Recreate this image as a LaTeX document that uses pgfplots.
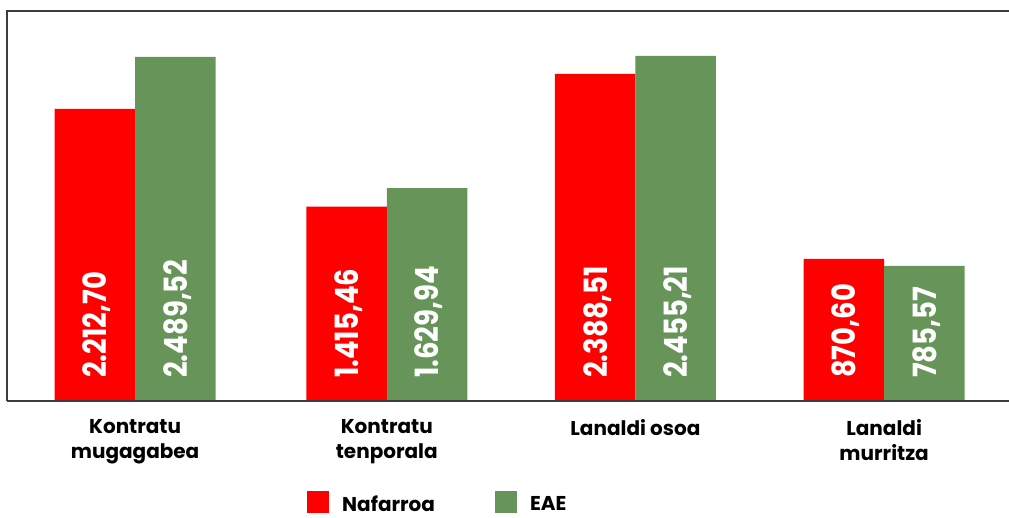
\documentclass[border=0pt]{standalone}
\usepackage{pgfplots}
\pgfplotsset{compat=1.18}
\usepackage{pgfplotstable}
\usepackage{fontspec}
\setmainfont{Poppins}
\newfontfamily\barfont{Poppins}[FakeStretch=0.86]
\definecolor{navred}{HTML}{FF0000}
\definecolor{eaegreen}{HTML}{679458}
\definecolor{frame}{HTML}{3C3C3C}

\pgfplotstableread{
x y
0 2113
1.008 1406
2.004 2366
3 1028
}\nafarroa
\pgfplotstableread{
x y
0 2490
1.008 1541
2.004 2497
3 977
}\eae
\pgfplotstableread{
x y label
0 166 2.212,70
1.008 166 1.415,46
2.004 166 2.388,51
3 166 870,60
}\nafarroalabels
\pgfplotstableread{
x y label
0 166 2.489,52
1.008 166 1.629,94
2.004 166 2.455,21
3 166 785,57
}\eaelabels

\begin{document}
\begin{tikzpicture}
\begin{axis}[
  at={(7pt,116pt)}, anchor=south west,
  scale only axis, width=1002pt, height=390pt,
  xmin=-0.513, xmax=3.5, ymin=0, ymax=2822,
  ybar=0pt, bar width=80.5pt,
  clip=false,
  axis line style={draw=none},
  ytick=\empty,
  xtick={0,1.008,2.004,3},
  major tick length=0pt,
  xticklabels={{Kontratu\\mugagabea},{Kontratu\\tenporala},{Lanaldi osoa},{Lanaldi\\murritza}},
  xticklabel style={align=center, font=\fontsize{20}{25}\selectfont\bfseries, inner sep=0pt, yshift=-18pt},
  legend columns=2,
  legend style={draw=none, fill=none, at={(rel axis cs:0.2994,-0.2295)}, anchor=north west,
    inner sep=0pt, font=\fontsize{20}{24}\selectfont\bfseries,
    nodes={inner sep=0pt},
    /tikz/every odd column/.append style={column sep=13pt},
    /tikz/every even column/.append style={column sep=60pt}},
]
\addplot[fill=navred, draw=none, bar shift=-40.25pt,
  legend image code/.code={\fill[navred] (0pt,-8pt) rectangle (22pt,14pt);}] table[x=x,y=y] {\nafarroa};
\addlegendentry{Nafarroa}
\addplot[fill=eaegreen, draw=none, bar shift=40.25pt,
  legend image code/.code={\fill[eaegreen] (0pt,-8pt) rectangle (22pt,14pt);}] table[x=x,y=y] {\eae};
\addlegendentry{EAE}
\addplot[forget plot, draw=none, fill=none, bar shift=-40.25pt,
  nodes near coords, point meta=explicit symbolic, nodes near coords align={west},
  every node near coord/.append style={rotate=90, anchor=west, inner sep=0pt, text depth=0pt, white, font=\barfont\fontsize{32}{32}\selectfont\bfseries}]
  table[x=x,y=y,meta=label] {\nafarroalabels};
\addplot[forget plot, draw=none, fill=none, bar shift=40.25pt,
  nodes near coords, point meta=explicit symbolic, nodes near coords align={west},
  every node near coord/.append style={rotate=90, anchor=west, inner sep=0pt, text depth=0pt, white, font=\barfont\fontsize{32}{32}\selectfont\bfseries}]
  table[x=x,y=y,meta=label] {\eaelabels};
\draw[frame, line width=1.6pt] (rel axis cs:1.01,1) -- (rel axis cs:0,1) -- (rel axis cs:0,0);
\draw[frame, line width=1.2pt] (rel axis cs:0,0) -- (rel axis cs:1.01,0);
\end{axis}
\pgfresetboundingbox
\useasboundingbox (0pt,0pt) rectangle (1009pt,517pt);
\end{tikzpicture}
\end{document}
